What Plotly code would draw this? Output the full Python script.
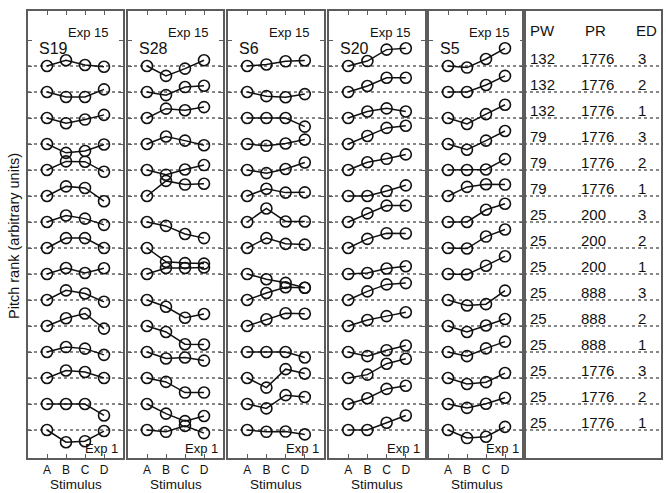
import plotly.graph_objects as go

# ---------------- data ----------------
subjects = ["S19", "S28", "S6", "S20", "S5"]
stimuli = ["A", "B", "C", "D"]
exp_numbers = list(range(1, 16))  # Exp 1 (bottom) ... Exp 15 (top)

# pitch rank relative to stimulus A, rows = Exp 1 .. Exp 15, cols = A, B, C, D
S19 = [
    [0, -0.47, -0.43, -0.04], [0, 0.00, 0.00, -0.44], [0, 0.29, 0.23, 0.00],
    [0, 0.19, 0.13, -0.11], [0, 0.30, 0.48, -0.10], [0, 0.37, 0.25, -0.07],
    [0, 0.23, 0.04, 0.22], [0, 0.38, 0.38, 0.00], [0, 0.25, 0.13, -0.11],
    [0, 0.37, 0.31, -0.20], [0, 0.33, 0.32, -0.07], [0, -0.34, -0.27, -0.02],
    [0, -0.20, -0.06, 0.12], [0, -0.19, -0.19, 0.10], [0, 0.22, 0.04, -0.03],
]
S28 = [
    [0, -0.07, 0.16, -0.12], [0, -0.37, -0.66, -0.46], [0, -0.15, -0.56, -0.56],
    [0, -0.25, -0.21, -0.33], [0, -0.23, -0.70, -0.71], [0, -0.26, -0.68, -0.54],
    [0, 0.23, 0.23, 0.25], [0, -0.53, -0.58, -0.60], [0, -0.15, -0.46, -0.62],
    [0, 0.58, 0.44, 0.47], [0, -0.18, 0.02, 0.19], [0, 0.29, 0.13, -0.05],
    [0, 0.36, 0.30, 0.42], [0, -0.12, 0.19, 0.24], [0, -0.38, -0.10, 0.22],
]
S6 = [
    [0, -0.07, -0.06, -0.17], [0, -0.17, 0.34, 0.27], [0, -0.37, 0.34, 0.17],
    [0, 0.00, 0.00, -0.21], [0, 0.26, 0.49, 0.47], [0, 0.27, 0.49, 0.47],
    [0, -0.20, -0.34, -0.53], [0, 0.38, 0.16, 0.13], [0, 0.52, 0.02, 0.02],
    [0, 0.28, 0.13, 0.14], [0, -0.12, 0.04, 0.29], [0, -0.07, 0.02, 0.17],
    [0, 0.00, 0.00, -0.33], [0, -0.16, -0.20, -0.08], [0, 0.06, 0.18, 0.21],
]
S20 = [
    [0, 0.00, 0.28, 0.56], [0, 0.22, 0.58, 0.70], [0, 0.13, 0.55, 0.74],
    [0, -0.16, 0.07, 0.25], [0, 0.23, 0.38, 0.53], [0, 0.33, 0.60, 0.65],
    [0, 0.04, 0.21, 0.30], [0, 0.35, 0.57, 0.56], [0, 0.33, 0.63, 0.63],
    [0, 0.00, 0.19, 0.41], [0, 0.30, 0.43, 0.60], [0, 0.31, 0.62, 0.70],
    [0, 0.25, 0.37, 0.25], [0, 0.23, 0.55, 0.55], [0, 0.19, 0.63, 0.68],
]
S5 = [
    [0, -0.31, -0.26, 0.12], [0, -0.15, 0.01, 0.24], [0, -0.23, -0.16, 0.19],
    [0, -0.16, 0.14, 0.40], [0, -0.23, 0.02, 0.27], [0, -0.21, -0.16, 0.36],
    [0, -0.02, 0.32, 0.68], [0, -0.02, 0.44, 0.71], [0, 0.00, 0.47, 0.70],
    [0, 0.35, 0.45, 0.44], [0, 0.00, 0.02, 0.42], [0, -0.22, 0.13, 0.50],
    [0, -0.23, 0.15, 0.51], [0, 0.00, 0.27, 0.62], [0, -0.06, 0.27, 0.68],
]
subject_data = [S19, S28, S6, S20, S5]

# table, rows = Exp 1 .. Exp 15
PW = [25, 25, 25, 25, 25, 25, 25, 25, 25, 79, 79, 79, 132, 132, 132]
PR = [1776, 1776, 1776, 888, 888, 888, 200, 200, 200, 1776, 1776, 1776, 1776, 1776, 1776]
ED = [1, 2, 3, 1, 2, 3, 1, 2, 3, 1, 2, 3, 1, 2, 3]
table_headers = ["PW", "PR", "ED"]

# ---------------- layout geometry ----------------
W, H = 666, 493
panel_px = [(28, 123), (128, 223), (228, 324), (329, 425), (429, 524)]
table_px = (524, 661)
top_px, bot_px = 11, 458
row1_px, row_step = 430, 26.0
y_lo = 1 - (bot_px - row1_px) / row_step
y_hi = 1 + (row1_px - top_px) / row_step
ydom = [1 - bot_px / H, 1 - top_px / H]

FONT = "Liberation Sans, Arial, Helvetica, sans-serif"
GRAY = "#5c5c5c"
INK = "#111111"

fig = go.Figure()
layout = dict(
    width=W, height=H, margin=dict(l=0, r=0, t=0, b=0),
    paper_bgcolor="white", plot_bgcolor="white", showlegend=False,
    font=dict(family=FONT, color=INK),
)
shapes, annotations = [], []

for i, (name, data) in enumerate(zip(subjects, subject_data)):
    n = i + 1
    xs = "" if n == 1 else str(n)
    x0p, x1p = panel_px[i]
    layout["xaxis" + xs] = dict(
        domain=[x0p / W, x1p / W], anchor="y" + xs, range=[0, 5],
        tickmode="array", tickvals=[1, 2, 3, 4], ticktext=stimuli,
        ticks="inside", ticklen=4, tickwidth=1, tickcolor=GRAY,
        showline=True, linecolor=GRAY, linewidth=1.5, mirror="ticks",
        showgrid=False, zeroline=False, tickfont=dict(size=12, color=INK),
        fixedrange=True,
    )
    layout["yaxis" + xs] = dict(
        domain=ydom, anchor="x" + xs, range=[y_lo, y_hi],
        tickmode="array", tickvals=list(range(1, 17)),
        ticks="inside", ticklen=4, tickwidth=1, tickcolor=GRAY,
        showticklabels=False,
        showline=True, linecolor=GRAY, linewidth=1.5, mirror="ticks",
        showgrid=False, zeroline=False, fixedrange=True,
    )
    for e in exp_numbers:
        shapes.append(dict(
            type="line", xref="x" + xs + " domain", yref="y" + xs,
            x0=0, x1=1, y0=e, y1=e, layer="below",
            line=dict(color=INK, width=1, dash="3px,3px"),
        ))
    for e, row in zip(exp_numbers, data):
        fig.add_trace(go.Scatter(
            x=[1, 2, 3, 4], y=[e + v for v in row],
            xaxis="x" + xs, yaxis="y" + xs, mode="lines+markers",
            line=dict(color=INK, width=1.5),
            marker=dict(symbol="circle-open", size=11, color=INK,
                        line=dict(width=1.6, color=INK)),
            hoverinfo="skip", cliponaxis=False,
        ))
    dom = "x" + xs + " domain"
    ydomr = "y" + xs + " domain"
    annotations += [
        dict(text=name, xref=dom, yref=ydomr, x=0.09, y=0.915,
             xanchor="left", yanchor="middle", showarrow=False,
             font=dict(size=16, color=INK)),
        dict(text="Exp 15", xref=dom, yref=ydomr, x=0.86, y=0.953,
             xanchor="right", yanchor="middle", showarrow=False,
             font=dict(size=13, color=INK)),
        dict(text="Exp 1", xref=dom, yref=ydomr, x=0.965, y=0.022,
             xanchor="right", yanchor="middle", showarrow=False,
             font=dict(size=13, color=INK)),
        dict(text="Stimulus", xref=dom, yref="paper", x=0.5,
             y=1 - 484.5 / H, xanchor="center", yanchor="middle",
             showarrow=False, font=dict(size=13.5, color=INK)),
    ]

# table panel
layout["xaxis6"] = dict(
    domain=[table_px[0] / W, table_px[1] / W], anchor="y6", range=[0, 1],
    showticklabels=False, ticks="", showline=True, linecolor=GRAY,
    linewidth=1.5, mirror=True, showgrid=False, zeroline=False, fixedrange=True,
)
layout["yaxis6"] = dict(
    domain=ydom, anchor="x6", range=[y_lo, y_hi], showticklabels=False,
    ticks="", showline=True, linecolor=GRAY, linewidth=1.5, mirror=True,
    showgrid=False, zeroline=False, fixedrange=True,
)
for e in exp_numbers:
    shapes.append(dict(
        type="line", xref="x6 domain", yref="y6", x0=0, x1=1, y0=e, y1=e,
        layer="below", line=dict(color=INK, width=1, dash="3px,3px"),
    ))
col_x = [0.03, 0.40, 0.815]
header_x = [0.03, 0.43, 0.80]
for hx, htxt in zip(header_x, table_headers):
    annotations.append(dict(
        text=htxt, xref="x6 domain", yref="y6", x=hx, y=16.35,
        xanchor="left", yanchor="middle", showarrow=False,
        font=dict(size=15, color=INK)))
for e, pw, pr, ed in zip(exp_numbers, PW, PR, ED):
    for cx, val in zip(col_x, [pw, pr, ed]):
        annotations.append(dict(
            text=str(val), xref="x6 domain", yref="y6", x=cx, y=e,
            xanchor="left", yanchor="bottom", yshift=-3, showarrow=False,
            font=dict(size=15, color=INK)))

annotations.append(dict(
    text="Pitch rank (arbitrary units)", xref="paper", yref="paper",
    x=14 / W, y=1 - 236 / H, textangle=-90, xanchor="center",
    yanchor="middle", showarrow=False, font=dict(size=14.5, color=INK)))

layout["shapes"] = shapes
layout["annotations"] = annotations
fig.update_layout(**layout)
fig.write_html(
    "out.html",
    config={"displayModeBar": False},
    post_script="document.body.style.margin='0';document.body.style.overflow='hidden';",
)
